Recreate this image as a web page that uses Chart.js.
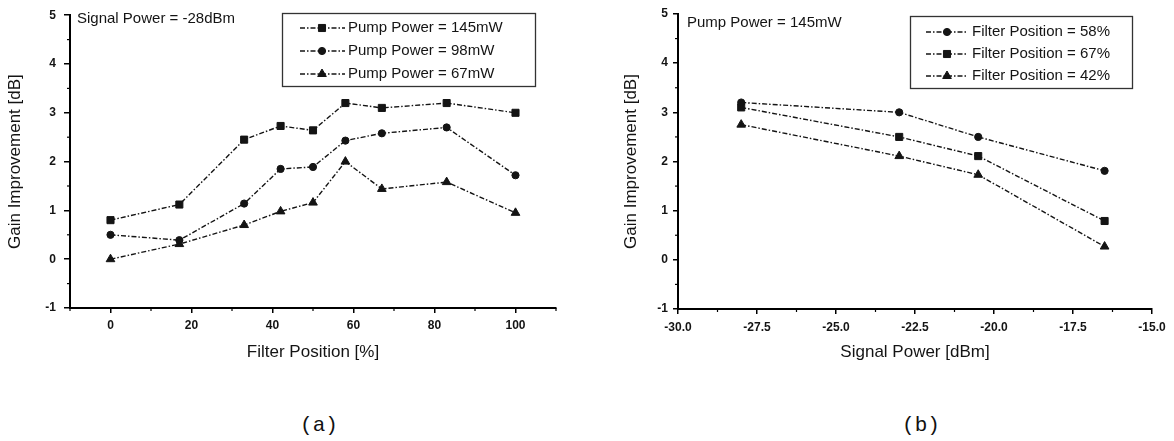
<!DOCTYPE html>
<html><head><meta charset="utf-8">
<script src="https://cdn.jsdelivr.net/npm/chart.js@4.4.0/dist/chart.umd.min.js"></script>
<style>
html,body{margin:0;padding:0;background:#fff;width:1174px;height:441px;overflow:hidden;position:relative;}
.wrap{position:absolute;top:0;width:587px;height:380px;}
.cap{position:absolute;font-family:"Liberation Mono","DejaVu Sans Mono",monospace;font-size:21px;color:#111;transform:translateX(-50%);white-space:nowrap;}
</style></head><body>
<div class="wrap" style="left:0"><canvas id="ca" width="587" height="380"></canvas></div>
<div class="wrap" style="left:587px"><canvas id="cb" width="587" height="380"></canvas></div>
<div class="cap" style="left:319px;top:414px">(a)</div>
<div class="cap" style="left:921px;top:414px">(b)</div>
<script>
// ---- data: chart (a) ----
const filterPositions = [0, 17, 33, 42, 50, 58, 67, 83, 100];
const gainPump145mW = [0.8, 1.12, 2.45, 2.73, 2.64, 3.2, 3.1, 3.2, 3.0];
const gainPump98mW  = [0.5, 0.39, 1.14, 1.85, 1.89, 2.43, 2.58, 2.7, 1.72];
const gainPump67mW  = [0.0, 0.31, 0.7, 0.98, 1.16, 2.0, 1.44, 1.58, 0.95];
// ---- data: chart (b) ----
const signalPowers = [-28, -23, -20.5, -16.5];
const gainFilter58 = [3.2, 3.0, 2.5, 1.81];
const gainFilter67 = [3.1, 2.5, 2.11, 0.79];
const gainFilter42 = [2.75, 2.11, 1.73, 0.27];
// ---- tick labels ----
const xTicksA = [0, 20, 40, 60, 80, 100];
const xMinorA = [-10, 10, 30, 50, 70, 90, 110];
const xTicksB = [-30, -27.5, -25, -22.5, -20, -17.5, -15];
const xMinorB = [-28.75, -26.25, -23.75, -21.25, -18.75, -16.25];
const yTicks = [-1, 0, 1, 2, 3, 4, 5];
const yMinor = [-0.5, 0.5, 1.5, 2.5, 3.5, 4.5];

const INK = '#141414';
const FONT = '"Liberation Sans", Arial, sans-serif';
const DASH = [5, 2, 1.5, 2];

function pointXY(xs, ys) { return xs.map((x, i) => ({x: x, y: ys[i]})); }
function ds(label, xs, ys, style, r) {
  return {label: label, data: pointXY(xs, ys), borderColor: INK, backgroundColor: INK,
    borderWidth: 1.4, borderDash: DASH, pointStyle: style, pointRadius: r,
    pointBorderWidth: 1, pointBackgroundColor: INK, pointBorderColor: INK,
    tension: 0, fill: false};
}

function drawMarker(ctx, style, r, x, y) {
  ctx.beginPath();
  if (style === 'rect') {
    const s = r * Math.SQRT1_2;
    ctx.rect(x - s, y - s, 2 * s, 2 * s);
  } else if (style === 'triangle') {
    ctx.moveTo(x, y - r);
    ctx.lineTo(x + r * 0.866, y + r * 0.5);
    ctx.lineTo(x - r * 0.866, y + r * 0.5);
    ctx.closePath();
  } else {
    ctx.arc(x, y, r, 0, Math.PI * 2);
  }
  ctx.fill(); ctx.stroke();
}

const decor = {
  id: 'decor',
  afterDraw(chart, args, o) {
    const ctx = chart.ctx, ca = chart.chartArea;
    const xs = chart.scales.x, ys = chart.scales.y;
    ctx.save();
    ctx.strokeStyle = '#000'; ctx.lineWidth = 1.2; ctx.setLineDash([]);
    o.minorX.forEach(v => { const p = xs.getPixelForValue(v); ctx.beginPath(); ctx.moveTo(p, ca.bottom); ctx.lineTo(p, ca.bottom + 3); ctx.stroke(); });
    o.minorY.forEach(v => { const p = ys.getPixelForValue(v); ctx.beginPath(); ctx.moveTo(ca.left, p); ctx.lineTo(ca.left - 3, p); ctx.stroke(); });
    // annotation
    ctx.font = '15px ' + FONT; ctx.fillStyle = INK; ctx.textBaseline = 'middle'; ctx.textAlign = 'left';
    ctx.fillText(o.note, o.noteX, o.noteY);
    // legend box
    const L = o.legend;
    ctx.strokeStyle = '#333'; ctx.lineWidth = 1.3;
    ctx.strokeRect(L.x + 0.5, L.y + 0.5, L.w, L.h);
    chart.data.datasets.forEach((d, i) => {
      const y = L.rowY + i * L.rowH;
      ctx.strokeStyle = INK; ctx.lineWidth = d.borderWidth; ctx.setLineDash(d.borderDash);
      ctx.beginPath(); ctx.moveTo(L.lineX0, y); ctx.lineTo(L.lineX1, y); ctx.stroke();
      ctx.setLineDash([]); ctx.lineWidth = 1; ctx.fillStyle = INK;
      drawMarker(ctx, d.pointStyle, d.pointRadius, L.markX, y);
      ctx.fillStyle = INK;
      ctx.fillText(d.label, L.textX, y);
    });
    ctx.restore();
  }
};

function axisCommon(extra) {
  return Object.assign({
    type: 'linear',
    border: {display: true, color: '#000', width: 2},
    grid: {display: true, drawOnChartArea: false, drawTicks: true, tickLength: 5, color: '#000', lineWidth: 1.5},
  }, extra);
}

function makeChart(id, cfg) {
  return new Chart(document.getElementById(id), {
    type: 'line',
    data: {datasets: cfg.datasets},
    plugins: [decor],
    options: {
      responsive: false, animation: false, devicePixelRatio: 1,
      layout: {padding: cfg.padding},
      plugins: {legend: {display: false}, tooltip: {enabled: false}, decor: cfg.decor},
      scales: {
        x: axisCommon({
          position: 'bottom', min: cfg.xMin, max: cfg.xMax,
          afterBuildTicks: s => { s.ticks = cfg.xTicks.map(v => ({value: v})); },
          afterFit: s => { s.height = cfg.xH; },
          ticks: {color: INK, font: {family: FONT, size: 12, weight: 'bold'}, padding: cfg.xPad, maxRotation: 0, autoSkip: false,
                  callback: cfg.xFmt},
          title: {display: true, text: cfg.xTitle, color: INK, font: {family: FONT, size: 17}, padding: {top: 0, bottom: 17}}
        }),
        y: axisCommon({
          position: 'left', min: -1, max: 5,
          afterBuildTicks: s => { s.ticks = yTicks.map(v => ({value: v})); },
          afterFit: s => { s.width = cfg.yW; },
          grid: {display: true, drawOnChartArea: false, drawTicks: true, tickLength: cfg.yTL, color: '#000', lineWidth: 1.5},
          ticks: {color: INK, font: {family: FONT, size: 12, weight: 'bold'}, padding: cfg.yPad, autoSkip: false},
          title: {display: true, text: 'Gain Improvement [dB]', color: INK, font: {family: FONT, size: 17}, padding: {top: cfg.yTitlePad, bottom: 0}}
        })
      }
    }
  });
}

makeChart('ca', {
  datasets: [
    ds('Pump Power = 145mW', filterPositions, gainPump145mW, 'rect', 5),
    ds('Pump Power = 98mW', filterPositions, gainPump98mW, 'circle', 3.6),
    ds('Pump Power = 67mW', filterPositions, gainPump67mW, 'triangle', 5)
  ],
  padding: {left: 0, right: 31, top: 12, bottom: 0},
  xMin: -10, xMax: 110, xTicks: xTicksA, xH: 72, xPad: 5,
  xFmt: v => String(v),
  xTitle: 'Filter Position [%]',
  yW: 70, yTL: 6, yPad: 8, yTitlePad: 5,
  decor: {
    minorX: xMinorA, minorY: yMinor,
    note: 'Signal Power = -28dBm', noteX: 77, noteY: 19,
    legend: {x: 282, y: 13, w: 253, h: 73, rowY: 28, rowH: 23, lineX0: 300, lineX1: 345, markX: 322, textX: 348}
  }
});

makeChart('cb', {
  datasets: [
    ds('Filter Position = 58%', signalPowers, gainFilter58, 'circle', 3.6),
    ds('Filter Position = 67%', signalPowers, gainFilter67, 'rect', 5),
    ds('Filter Position = 42%', signalPowers, gainFilter42, 'triangle', 5)
  ],
  padding: {left: 30, right: 22, top: 14, bottom: 0},
  xMin: -30, xMax: -15, xTicks: xTicksB, xH: 71, xPad: 6,
  xFmt: v => Number(v).toFixed(1),
  xTitle: 'Signal Power [dBm]',
  yW: 61, yTL: 5, yPad: 5, yTitlePad: 4,
  decor: {
    minorX: xMinorB, minorY: yMinor,
    note: 'Pump Power = 145mW', noteX: 100, noteY: 23,
    legend: {x: 323, y: 16, w: 222, h: 72, rowY: 32, rowH: 22, lineX0: 339, lineX1: 380, markX: 360, textX: 385}
  }
});
</script>
</body></html>
